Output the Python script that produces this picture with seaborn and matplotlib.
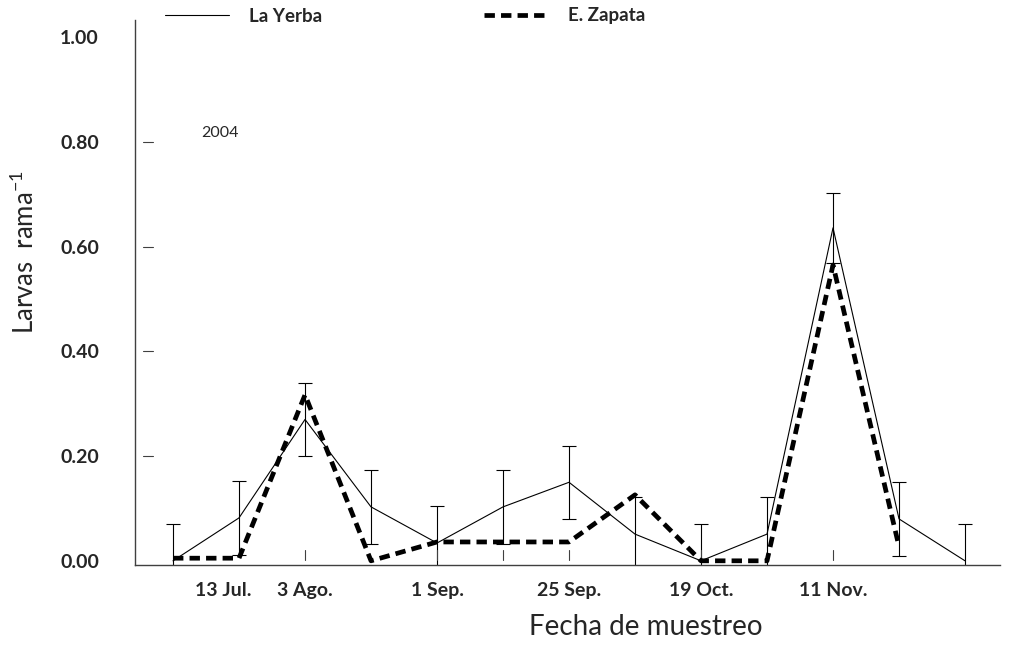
import numpy as np
import pandas as pd
import seaborn as sns
import matplotlib.pyplot as plt
from matplotlib.lines import Line2D

## Data (13 sampling dates)
idx_yerba = list(range(13))
la_yerba = [0.00, 0.082, 0.27, 0.103, 0.034, 0.103, 0.15, 0.051, 0.00, 0.051, 0.636, 0.08, 0.00]
err_yerba = [0.07, 0.07, 0.07, 0.07, 0.07, 0.07, 0.07, 0.07, 0.07, 0.07, 0.067, 0.07, 0.07]

idx_zapata = list(range(12))
e_zapata = [0.005, 0.005, 0.317, 0.00, 0.036, 0.036, 0.036, 0.126, 0.00, 0.00, 0.565, 0.027]

tick_pos = [0.76, 2, 4, 6, 8, 10]
tick_labels = ['13 Jul.', '3 Ago.', '1 Sep.', '25 Sep.', '19 Oct.', '11 Nov.']
ytick_vals = [0.0, 0.2, 0.4, 0.6, 0.8, 1.0]
inner_xmarks = [2, 4, 5, 6, 8, 10]

df_yerba = pd.DataFrame({'fecha': idx_yerba, 'larvas': la_yerba})
df_zapata = pd.DataFrame({'fecha': idx_zapata, 'larvas': e_zapata})

sns.set_style('white')
plt.rcParams['font.family'] = ['Lato', 'DejaVu Sans']
plt.rcParams['mathtext.fontset'] = 'custom'
plt.rcParams['mathtext.rm'] = 'Lato'
plt.rcParams['mathtext.it'] = 'Lato'

fig = plt.figure(figsize=(10.14, 6.54), dpi=100)
ax = fig.add_axes([135/1014, 1 - 565/654, 865/1014, 545/654])

## Error bars (La Yerba only)
ax.errorbar(idx_yerba, la_yerba, yerr=err_yerba, fmt='none', ecolor='black',
            elinewidth=0.8, capsize=5, capthick=0.8, zorder=2)

sns.lineplot(data=df_yerba, x='fecha', y='larvas', ax=ax, color='black',
             linewidth=0.8, zorder=3)
sns.lineplot(data=df_zapata, x='fecha', y='larvas', ax=ax, color='black',
             linewidth=3.4, linestyle=(0, (2.2, 1.3)), zorder=4)

ax.set_xlim(-0.576, 12.53)
ax.set_ylim(-0.008, 1.033)

## Axes look
sns.despine(ax=ax)
for sp in ['left', 'bottom']:
    ax.spines[sp].set_color('#404040')
    ax.spines[sp].set_linewidth(1.0)

ax.set_yticks(ytick_vals)
ax.set_yticklabels([f'{v:.2f}' for v in ytick_vals], fontweight='bold', fontsize=14)
ax.set_xticks(tick_pos)
ax.set_xticklabels(tick_labels, fontweight='bold', fontsize=14)
ax.tick_params(axis='both', length=0)
ax.tick_params(axis='y', pad=26)
ax.tick_params(axis='x', pad=12)

# detached tick marks inside the plot
ytr = ax.get_yaxis_transform()
for v in ytick_vals[1:-1]:
    ax.plot([0.009, 0.021], [v, v], color='#404040', lw=0.8, transform=ytr, clip_on=False)
xtr = ax.get_xaxis_transform()
for p in inner_xmarks:
    ax.plot([p, p], [0.009, 0.028], color='#404040', lw=0.8, transform=xtr, clip_on=False)

ax.set_xlabel('Fecha de muestreo', fontsize=20)
ax.xaxis.set_label_coords(0.59, -0.09)
ax.set_ylabel('Larvas  rama$^{-1}$', fontsize=18.5)
ax.yaxis.set_label_coords(-0.111, 0.574)

ax.text(0.71, 0.818, '2004', fontsize=11.5, ha='center', va='center')

## Legend on top
handles = [Line2D([], [], color='black', lw=0.8),
           Line2D([], [], color='black', lw=3.4, linestyle=(0, (2.2, 1.3)))]
fig.legend(handles, ['La Yerba', 'E. Zapata'], loc='center left',
           bbox_to_anchor=(165/1014, 1 - 16/654), ncol=2, frameon=False,
           prop={'weight': 'bold', 'size': 13.5}, handlelength=3.4,
           handletextpad=1.1, columnspacing=8.6, borderaxespad=0, borderpad=0)

fig.savefig('out.png', dpi=100)
